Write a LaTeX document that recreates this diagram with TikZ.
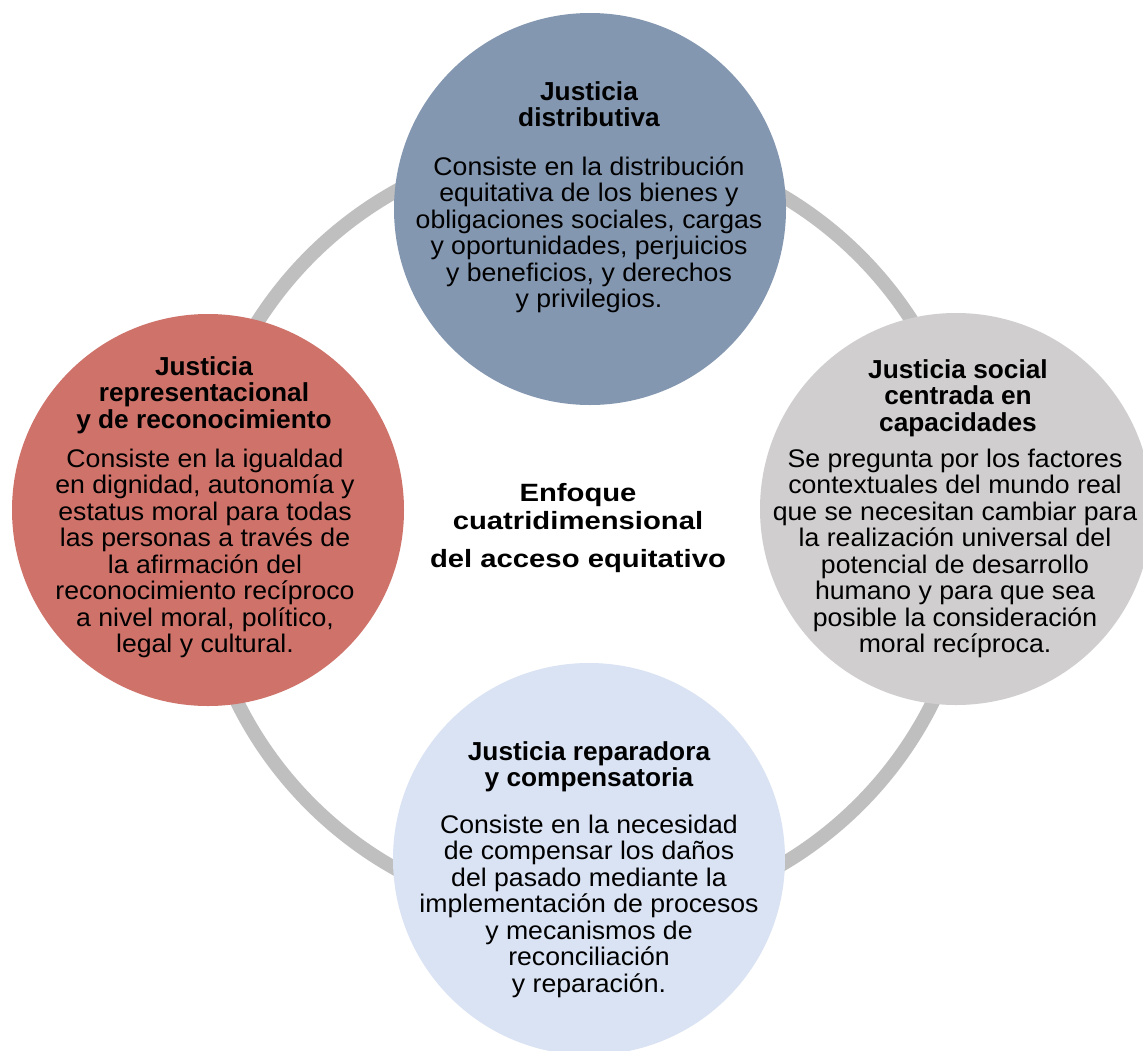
\documentclass[tikz,border=0pt]{standalone}
\usepackage{fontspec}
\setmainfont{Liberation Sans}
\newfontfamily\mybfam[FakeStretch=1.045]{Liberation Sans}
\newfontfamily\mytfam[FakeStretch=1.01]{Liberation Sans}
\newfontfamily\mycfam[FakeStretch=1.17]{Liberation Sans}
\definecolor{ringgray}{RGB}{191,191,191}
\definecolor{topblue}{RGB}{132,151,176}
\definecolor{leftred}{RGB}{206,114,106}
\definecolor{rightgray}{RGB}{208,206,206}
\definecolor{botblue}{RGB}{218,227,243}
\newcommand\mytitlefont{\mytfam\fontsize{26}{26.5}\selectfont\bfseries\lineskiplimit=-50pt}
\newcommand\mybodyfont{\mybfam\fontsize{25.5}{26.5}\selectfont\lineskiplimit=-50pt}
\newcommand\mycenterfont{\mycfam\fontsize{25}{28}\selectfont\bfseries\lineskiplimit=-50pt}
\newcommand\fl{\rule{0pt}{25pt}}
\begin{document}
\begin{tikzpicture}[x=1pt,y=-1pt,
  disc/.style={circle, inner sep=0pt, minimum size=392pt, draw=none},
  ttl/.style={anchor=north, inner sep=0pt, align=center, font=\mytitlefont},
  bdy/.style={anchor=north, inner sep=0pt, align=center, font=\mybodyfont}]
\clip (0,0) rectangle (1143,1050);
\fill[white] (0,0) rectangle (1143,1050);
\node[circle, draw=ringgray, line width=14pt, minimum size=776pt, inner sep=0pt] (ring) at (585,530) {};
\node[disc, fill=topblue] (top) at (590,209) {};
\node[disc, fill=leftred] (left) at (208,510) {};
\node[disc, fill=rightgray] (right) at (956,509) {};
\node[disc, fill=botblue] (bottom) at (589,859) {};
% top
\node[ttl] (topt) at (589,75) {\fl Justicia\\distributiva};
\node[bdy] (topb) at (589,150) {\fl Consiste en la distribución\\equitativa de los bienes y\\obligaciones sociales, cargas\\y oportunidades, perjuicios\\y beneficios, y derechos\\y privilegios.};
% left
\node[ttl] (leftt) at (204,350) {\fl Justicia\\representacional\\y de reconocimiento};
\node[bdy] (leftb) at (205,442) {\fl Consiste en la igualdad\\en dignidad, autonomía y\\estatus moral para todas\\las personas a través de\\la afirmación del\\reconocimiento recíproco\\a nivel moral, político,\\legal y cultural.};
% right
\node[ttl] (rightt) at (958,353) {\fl Justicia social\\centrada en\\capacidades};
\node[bdy] (rightb) at (955,442) {\fl Se pregunta por los factores\\contextuales del mundo real\\que se necesitan cambiar para\\la realización universal del\\potencial de desarrollo\\humano y para que sea\\posible la consideración\\moral recíproca.};
% bottom
\node[ttl] (bott) at (589,735) {\fl Justicia reparadora\\y compensatoria};
\node[bdy] (botb) at (589,808) {\fl Consiste en la necesidad\\de compensar los daños\\del pasado mediante la\\implementación de procesos\\y mecanismos de\\reconciliación\\y reparación.};
% center
\node[anchor=north, inner sep=0pt, align=center, font=\mycenterfont] (center) at (578,476) {\fl Enfoque\\cuatridimensional\\[10pt]del acceso equitativo};
\end{tikzpicture}
\end{document}
